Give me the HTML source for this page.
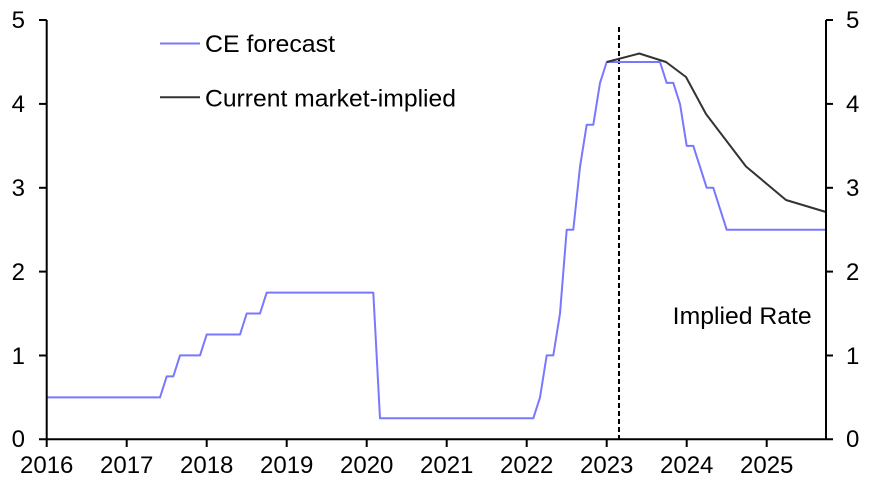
<!DOCTYPE html>
<html>
<head>
<meta charset="utf-8">
<style>
html,body{margin:0;padding:0;background:#fff;}
svg{display:block;}
text{font-family:"Liberation Sans",Arial,sans-serif;font-size:24px;fill:#000;}
</style>
</head>
<body>
<svg width="872" height="482" viewBox="0 0 872 482" xmlns="http://www.w3.org/2000/svg">
  <!-- dashed vertical line -->
  <line x1="619" y1="27" x2="619" y2="439" stroke="#000" stroke-width="2" stroke-dasharray="5,3"/>

  <!-- CE forecast -->
  <path d="M46.7,397.4 L160,397.4 L166.7,376.4 L173.3,376.4 L180,355.4 L200,355.4 L206.7,334.5 L240,334.5 L246.7,313.5 L260,313.5 L266.7,292.6 L373.3,292.6 L380,418.3 L533.3,418.3 L540,397.4 L546.7,355.4 L553.3,355.4 L560,313.5 L566.7,229.7 L573.3,229.7 L580,166.8 L586.7,124.8 L593.3,124.8 L600,82.9 L606.7,62 L660,62 L666.7,82.9 L673.3,82.9 L680,103.9 L686.7,145.9 L693.3,145.9 L700,166.8 L706.7,187.8 L713.3,187.8 L720,208.8 L726.7,229.7 L826,229.7" fill="none" stroke="#7878FF" stroke-width="2" stroke-linejoin="round"/>

  <!-- Market implied -->
  <path d="M606.7,62 L639.3,53.5 L666,62 L686,77 L706,114 L746,166.5 L786,200 L826,212" fill="none" stroke="#333333" stroke-width="2" stroke-linejoin="round"/>

  <!-- axes -->
  <g stroke="#000" stroke-width="2" fill="none">
    <line x1="46.7" y1="20" x2="46.7" y2="440"/>
    <line x1="826" y1="20" x2="826" y2="440"/>
    <line x1="39" y1="439.3" x2="833" y2="439.3"/>
    <!-- left ticks -->
    <line x1="39" y1="20" x2="46.7" y2="20"/>
    <line x1="39" y1="103.9" x2="46.7" y2="103.9"/>
    <line x1="39" y1="187.8" x2="46.7" y2="187.8"/>
    <line x1="39" y1="271.6" x2="46.7" y2="271.6"/>
    <line x1="39" y1="355.5" x2="46.7" y2="355.5"/>
    <!-- right ticks -->
    <line x1="826" y1="20" x2="833" y2="20"/>
    <line x1="826" y1="103.9" x2="833" y2="103.9"/>
    <line x1="826" y1="187.8" x2="833" y2="187.8"/>
    <line x1="826" y1="271.6" x2="833" y2="271.6"/>
    <line x1="826" y1="355.5" x2="833" y2="355.5"/>
    <!-- x ticks -->
    <line x1="46.7" y1="439" x2="46.7" y2="447"/>
    <line x1="126.7" y1="439" x2="126.7" y2="447"/>
    <line x1="206.7" y1="439" x2="206.7" y2="447"/>
    <line x1="286.7" y1="439" x2="286.7" y2="447"/>
    <line x1="366.7" y1="439" x2="366.7" y2="447"/>
    <line x1="446.7" y1="439" x2="446.7" y2="447"/>
    <line x1="526.7" y1="439" x2="526.7" y2="447"/>
    <line x1="606.7" y1="439" x2="606.7" y2="447"/>
    <line x1="686.7" y1="439" x2="686.7" y2="447"/>
    <line x1="766.7" y1="439" x2="766.7" y2="447"/>
  </g>

  <!-- left labels -->
  <g text-anchor="end">
    <text x="25" y="28">5</text>
    <text x="25" y="112">4</text>
    <text x="25" y="196">3</text>
    <text x="25" y="280">2</text>
    <text x="25" y="364">1</text>
    <text x="25" y="447">0</text>
  </g>
  <!-- right labels -->
  <g text-anchor="start">
    <text x="846" y="28">5</text>
    <text x="846" y="112">4</text>
    <text x="846" y="196">3</text>
    <text x="846" y="280">2</text>
    <text x="846" y="364">1</text>
    <text x="846" y="447">0</text>
  </g>
  <!-- x labels -->
  <g text-anchor="middle">
    <text x="46.7" y="473">2016</text>
    <text x="126.7" y="473">2017</text>
    <text x="206.7" y="473">2018</text>
    <text x="286.7" y="473">2019</text>
    <text x="366.7" y="473">2020</text>
    <text x="446.7" y="473">2021</text>
    <text x="526.7" y="473">2022</text>
    <text x="606.7" y="473">2023</text>
    <text x="686.7" y="473">2024</text>
    <text x="766.7" y="473">2025</text>
  </g>

  <!-- legend -->
  <line x1="160" y1="43.5" x2="200" y2="43.5" stroke="#7878FF" stroke-width="2"/>
  <text x="205" y="52" textLength="130" lengthAdjust="spacingAndGlyphs">CE forecast</text>
  <line x1="160" y1="97.3" x2="200" y2="97.3" stroke="#333333" stroke-width="2"/>
  <text x="205" y="106.5" textLength="251" lengthAdjust="spacingAndGlyphs">Current market-implied</text>

  <text x="672.7" y="324" textLength="139" lengthAdjust="spacingAndGlyphs">Implied Rate</text>
</svg>
</body>
</html>
